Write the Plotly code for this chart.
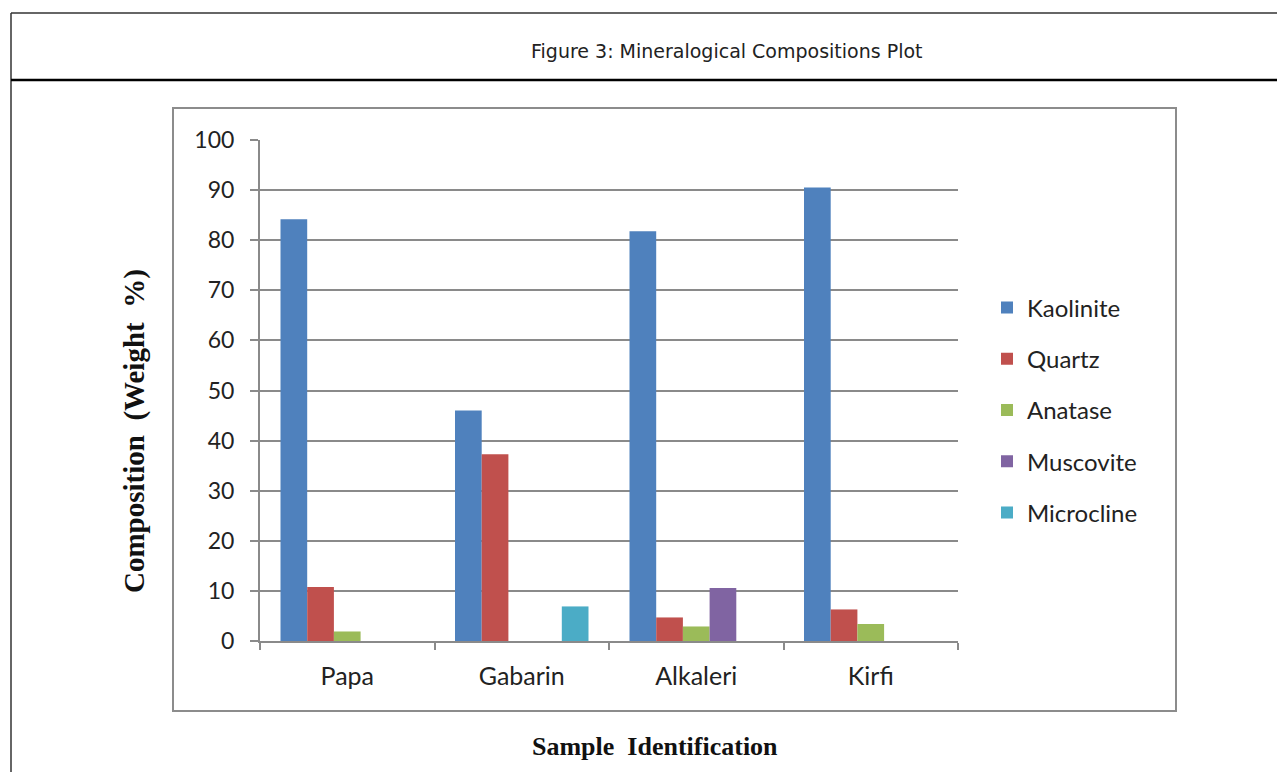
import plotly.graph_objects as go

samples = ["Papa", "Gabarin", "Alkaleri", "Kirfi"]
minerals = ["Kaolinite", "Quartz", "Anatase", "Muscovite", "Microcline"]
kaolinite = [84.2, 46.0, 81.8, 90.5]
quartz = [10.8, 37.3, 4.7, 6.3]
anatase = [1.9, None, 2.9, 3.4]
muscovite = [None, None, 10.6, None]
microcline = [None, 6.9, None, None]
series = [kaolinite, quartz, anatase, muscovite, microcline]
colors = ["#4F81BD", "#C0504D", "#9BBB59", "#8064A2", "#4BACC6"]
y_ticks = list(range(0, 101, 10))

OFF = 8  # page body margin in the browser
W, H = 1285, 772
L, R, T, B = 260 - OFF, 958 - OFF, 140 - OFF, 641 - OFF


def px(x):
    return (x - OFF - L) / (R - L)


def py(y):
    return (B - (y - OFF)) / (B - T)


fig = go.Figure()
for name, vals, col in zip(minerals, series, colors):
    fig.add_trace(go.Bar(x=samples, y=vals, name=name, marker_color=col,
                         marker_line_width=0, legendgroup=name))

grid = "#8a8a8a"
fig.update_layout(
    width=W, height=H,
    margin=dict(l=L, r=W - R, t=T, b=H - B, pad=0),
    paper_bgcolor="white", plot_bgcolor="white",
    barmode="group", bargap=0.235, bargroupgap=0,
    showlegend=True,
    legend=dict(x=px(987), xanchor="left", y=py(410), yanchor="middle",
                font=dict(family="Lato", size=24, color="#222"),
                tracegroupgap=17, bgcolor="rgba(0,0,0,0)"),
    xaxis=dict(showline=True, linecolor=grid, linewidth=2, ticks="outside",
               tickson="boundaries", ticklen=7, tickwidth=2, tickcolor=grid,
               showgrid=False, ticklabelstandoff=12,
               tickfont=dict(family="Lato", size=25, color="#222")),
    yaxis=dict(range=[0, 100], tickvals=y_ticks, showline=True, linecolor=grid,
               linewidth=2, ticks="outside", ticklen=8, tickwidth=2,
               tickcolor=grid, showgrid=True, gridcolor=grid, gridwidth=2,
               zeroline=False, ticklabelstandoff=11,
               tickfont=dict(family="Lato", size=23, color="#222")),
    font=dict(family="Lato"),
)

shapes = [
    # outer frame
    dict(type="line", xref="paper", yref="paper", x0=px(11), x1=px(1300),
         y0=py(13), y1=py(13), line=dict(color="#333", width=1.5)),
    dict(type="line", xref="paper", yref="paper", x0=px(11), x1=px(11),
         y0=py(13), y1=py(790), line=dict(color="#333", width=1.5)),
    dict(type="line", xref="paper", yref="paper", x0=px(11), x1=px(1300),
         y0=py(80), y1=py(80), line=dict(color="#000", width=2.5)),
    # chart box
    dict(type="rect", xref="paper", yref="paper", x0=px(173), x1=px(1176),
         y0=py(108), y1=py(711), line=dict(color="#8c8c8c", width=2),
         layer="below"),
]
fig.update_layout(shapes=shapes)

fig.add_annotation(text="Figure 3: Mineralogical Compositions Plot",
                   xref="paper", yref="paper", x=px(727), y=py(51),
                   xanchor="center", yanchor="middle", showarrow=False,
                   font=dict(family="DejaVu Sans", size=19, color="#222"))
fig.add_annotation(text="Composition  (Weight  %)", textangle=-90,
                   xref="paper", yref="paper", x=px(134), y=py(431),
                   xanchor="center", yanchor="middle", showarrow=False,
                   font=dict(family="Liberation Serif", size=29, color="#111",
                             weight="bold"))
fig.add_annotation(text="Sample  Identification",
                   xref="paper", yref="paper", x=px(655), y=py(746),
                   xanchor="center", yanchor="middle", showarrow=False,
                   font=dict(family="Liberation Serif", size=26, color="#111",
                             weight="bold"))

fig.write_html("out.html")
